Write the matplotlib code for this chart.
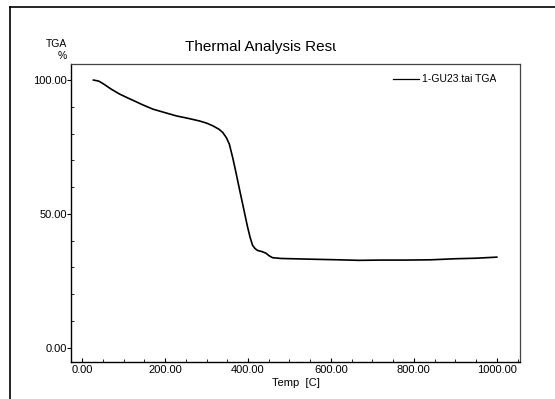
import matplotlib
matplotlib.use("Agg")
import matplotlib.pyplot as plt
from matplotlib.lines import Line2D
from matplotlib.transforms import Bbox
from matplotlib.ticker import MultipleLocator, FormatStrFormatter

plt.rcParams["font.family"] = ["Liberation Sans", "DejaVu Sans"]

# TGA curve
temp = [27, 40, 51, 70, 91, 110, 123, 145, 171, 200, 227, 255, 283, 300, 315, 330,
        339, 348, 355, 363, 369, 375, 381, 387, 393, 399, 405, 411, 417, 423, 433,
        443, 451, 459, 480, 507, 560, 620, 667, 720, 780, 840, 900, 950, 1000]
tga = [100.0, 99.6, 98.6, 96.6, 94.7, 93.3, 92.4, 90.8, 89.1, 87.8, 86.6, 85.7, 84.7,
       83.9, 82.9, 81.6, 80.4, 78.4, 76.0, 71.0, 66.8, 62.4, 58.0, 53.7, 49.3, 45.0,
       41.2, 38.2, 37.0, 36.3, 35.9, 35.3, 34.3, 33.6, 33.3, 33.2, 33.0, 32.8, 32.6,
       32.7, 32.7, 32.8, 33.2, 33.4, 33.8]
series_name = "1-GU23.tai TGA"

W, H = 555, 399
fig = plt.figure(figsize=(W / 100, H / 100), dpi=100)
ax = fig.add_axes([71 / W, 1 - 362 / H, (520 - 71) / W, (362 - 64) / H])

ax.plot(temp, tga, color="black", linewidth=1.2, label=series_name)

ax.set_xlim(-27, 1056)
ax.set_ylim(-5.4, 106)
ax.xaxis.set_major_locator(MultipleLocator(200))
ax.xaxis.set_minor_locator(MultipleLocator(50))
ax.yaxis.set_major_locator(MultipleLocator(50))
ax.yaxis.set_minor_locator(MultipleLocator(10))
ax.xaxis.set_major_formatter(FormatStrFormatter("%.2f"))
ax.yaxis.set_major_formatter(FormatStrFormatter("%.2f"))
ax.tick_params(axis="x", which="both", direction="in", labelsize=8, pad=2)
ax.tick_params(axis="x", which="major", length=3)
ax.tick_params(axis="x", which="minor", length=2)
ax.tick_params(axis="y", which="major", direction="out", length=3, labelsize=8, pad=0)
ax.tick_params(axis="y", which="minor", direction="in", length=2)
for side in ["left", "bottom"]:
    ax.spines[side].set_linewidth(1.0)
for side in ["top", "right"]:
    ax.spines[side].set_linewidth(0.9)
    ax.spines[side].set_color("#444444")

ax.set_xlabel("Temp  [C]", fontsize=8, labelpad=2)
fig.text(67 / W, 1 - 50 / H, "TGA\n%", fontsize=7.5, ha="right", va="center",
         multialignment="right", linespacing=1.3)

title = fig.text(185 / W, 1 - 47 / H, "Thermal Analysis Results", fontsize=11,
                 ha="left", va="center")
title.set_clip_box(Bbox([[0, 0], [336, H]]))
title.set_clip_on(True)

leg = ax.legend(loc="upper right", bbox_to_anchor=(1 - 13 / 449, 1.0), frameon=False,
                fontsize=7.5, handlelength=2.5, handletextpad=0.3, borderaxespad=0.6)
for line in leg.get_lines():
    line.set_linewidth(0.9)
for t in leg.get_texts():
    t.set_clip_box(Bbox([[0, 0], [496, H]]))
    t.set_clip_on(True)

# outer frame
fig.add_artist(Line2D([10 / W, 10 / W], [0, 1 - 7 / H], color="black", linewidth=1.2))
fig.add_artist(Line2D([10 / W, 1], [1 - 7 / H, 1 - 7 / H], color="black", linewidth=1.2))

fig.savefig("out.png", dpi=100)
